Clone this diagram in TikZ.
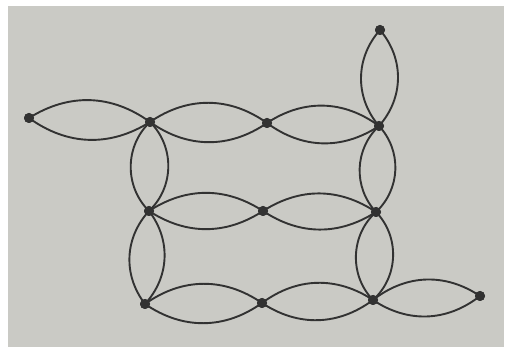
\documentclass[tikz,border=0pt]{standalone}
\definecolor{paper}{RGB}{202,202,197}
\definecolor{ink}{RGB}{50,50,50}
\begin{document}
\begin{tikzpicture}[x=1pt,y=-1pt,
  vtx/.style={circle,fill=ink,inner sep=0pt,minimum size=10pt},
  edge/.style={draw=ink,line width=1.9pt}]
\useasboundingbox (0,0) rectangle (506,347);
\fill[white] (0,0) rectangle (506,347);
\fill[paper] (8,6) rectangle (504,347);
\node[vtx] (T) at (380,30) {};
\node[vtx] (L) at (29,118) {};
\node[vtx] (A1) at (150,122) {};
\node[vtx] (A2) at (267,123) {};
\node[vtx] (A3) at (379,126) {};
\node[vtx] (B1) at (149,211) {};
\node[vtx] (B2) at (263,211) {};
\node[vtx] (B3) at (376,212) {};
\node[vtx] (C1) at (145,304) {};
\node[vtx] (C2) at (262,303) {};
\node[vtx] (C3) at (373,300) {};
\node[vtx] (R) at (480,296) {};
\foreach \a/\b/\ang in {L/A1/34, A1/A2/35, A2/A3/35, B1/B2/33, B2/B3/33, C1/C2/35, C2/C3/35, C3/R/36,
  T/A3/41, A1/B1/46, B1/C1/40, A3/B3/45, B3/C3/46}{
  \path[edge] (\a.center) to[bend left=\ang] (\b.center);
  \path[edge] (\a.center) to[bend right=\ang] (\b.center);
}
\foreach \n in {T,L,A1,A2,A3,B1,B2,B3,C1,C2,C3,R}{\node[vtx] at (\n) {};}
\end{tikzpicture}
\end{document}
